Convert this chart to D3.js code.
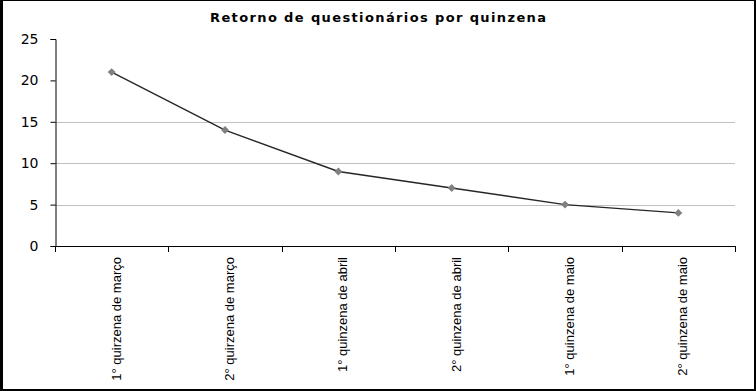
<!DOCTYPE html>
<html>
<head>
<meta charset="utf-8">
<script src="https://cdn.jsdelivr.net/npm/d3@7"></script>
<style>
  html, body { margin: 0; padding: 0; background: #fff; }
  svg { display: block; }
</style>
</head>
<body>
<script>
const title = "Retorno de questionários por quinzena";
const categories = [
  "1° quirzena de março",
  "2° quirzena de março",
  "1° quinzena de abril",
  "2° quinzena de abril",
  "1° quinzena de maio",
  "2° quinzena de maio"
];
const values = [21, 14, 9, 7, 5, 4];
const yTicks = [0, 5, 10, 15, 20, 25];
const gridValues = [5, 10, 15];

(function () {
const W = 756, H = 391;
const svg = d3.select("body").append("svg").attr("width", W).attr("height", H);

// frame
svg.append("rect").attr("x", 0).attr("y", 0).attr("width", W).attr("height", H).attr("fill", "#000");
svg.append("rect").attr("x", 3).attr("y", 1).attr("width", 751).attr("height", 388).attr("fill", "#fff");

const pL = 55, pR = 735, pT = 39, pB = 246;
const x = d3.scaleBand().domain(categories).range([pL, pR]);
const y = d3.scaleLinear().domain([0, 25]).range([pB, pT]);

// title
svg.append("text")
  .attr("x", 378).attr("y", 22)
  .attr("text-anchor", "middle")
  .attr("font-family", "DejaVu Sans, Verdana, sans-serif")
  .attr("font-weight", "bold")
  .attr("font-size", 13)
  .attr("textLength", 336)
  .attr("lengthAdjust", "spacing")
  .attr("fill", "#000")
  .text(title);

// gridlines
svg.append("g").selectAll("line").data(gridValues).join("line")
  .attr("x1", pL).attr("x2", pR)
  .attr("y1", d => Math.round(y(d)) + 0.5).attr("y2", d => Math.round(y(d)) + 0.5)
  .attr("stroke", "#c0c0c0").attr("stroke-width", 1);

// y axis
const yAxis = d3.axisLeft(y).tickValues(yTicks).tickSize(5).tickPadding(12).tickFormat(d3.format("d"));
const gy = svg.append("g").attr("transform", `translate(${pL + 0.5},0)`).call(yAxis);
gy.select(".domain").attr("stroke", "#000");
gy.selectAll(".tick line").attr("stroke", "#000");
gy.selectAll(".tick text")
  .attr("font-family", "DejaVu Sans, Verdana, sans-serif")
  .attr("font-size", 14)
  .attr("fill", "#000");

// x axis
const xTickPositions = categories.map(c => x(c)).concat([pR]);
const gx = svg.append("g");
gx.append("line").attr("x1", pL).attr("x2", pR + 0.5)
  .attr("y1", pB + 0.5).attr("y2", pB + 0.5).attr("stroke", "#000");
gx.selectAll("line.tk").data(xTickPositions).join("line").attr("class", "tk")
  .attr("x1", d => Math.round(d) + 0.5).attr("x2", d => Math.round(d) + 0.5)
  .attr("y1", pB).attr("y2", pB + 6).attr("stroke", "#000");
gx.selectAll("text").data(categories).join("text")
  .attr("transform", d => `translate(${x(d) + x.bandwidth() / 2 + 9},257) rotate(-90)`)
  .attr("text-anchor", "end")
  .attr("font-family", "Liberation Sans Narrow, Arial Narrow, Liberation Sans, sans-serif")
  .attr("font-size", 13)
  .attr("fill", "#000")
  .text(d => d);

// line
const pts = categories.map((c, i) => [x(c) + x.bandwidth() / 2, y(values[i])]);
svg.append("path")
  .attr("d", d3.line()(pts))
  .attr("fill", "none")
  .attr("stroke", "#262626")
  .attr("stroke-width", 1.4);

// markers
svg.append("g").selectAll("path").data(pts).join("path")
  .attr("transform", d => `translate(${d[0]},${d[1]})`)
  .attr("d", d3.symbol().type(d3.symbolDiamond2).size(40))
  .attr("fill", "#808080");
})();
</script>
</body>
</html>
